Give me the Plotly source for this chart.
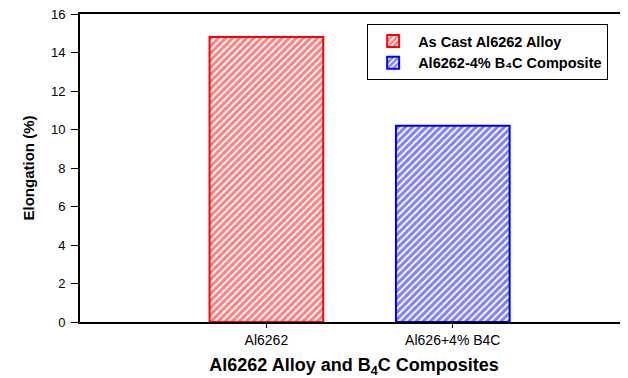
import plotly.graph_objects as go

categories = ["Al6262", "Al626+4% B4C"]
series_names = ["<b>As Cast Al6262 Alloy</b>", "<b>Al6262-4% B₄C Composite</b>"]
values = [14.8, 10.2]
colors = ["#ff0000", "#0000ff"]
y_ticks = [0, 2, 4, 6, 8, 10, 12, 14, 16]

FONT = "Arial, Liberation Sans, sans-serif"

fig = go.Figure()
for i, (name, val, col) in enumerate(zip(series_names, values, colors)):
    fig.add_trace(go.Bar(
        x=[i], y=[val], name=name, width=0.61,
        marker=dict(color="white", line=dict(color=col, width=2),
                    pattern=dict(shape="/", fgcolor=col, bgcolor="white", size=5, solidity=0.6)),
    ))

fig.update_layout(
    width=620, height=370,
    margin=dict(l=72, r=0, t=6, b=56),
    plot_bgcolor="white", paper_bgcolor="white",
    barmode="overlay",
    font=dict(family=FONT, color="black", size=12),
    legend=dict(x=0.524, y=0.9675, xanchor="left", yanchor="top",
                bordercolor="black", borderwidth=1, bgcolor="white",
                font=dict(family=FONT, size=14.5, color="black"),
                itemwidth=40, tracegroupgap=0),
    xaxis=dict(range=[-1.0, 1.94], tickvals=[0, 1], ticktext=categories,
               showline=True, linecolor="black", linewidth=2, mirror=True,
               ticks="outside", ticklen=4, tickcolor="black",
               showgrid=False, zeroline=False,
               tickfont=dict(size=14),
               title=dict(text="<b>Al6262 Alloy and B<sub>4</sub>C Composites</b>",
                          font=dict(size=18), standoff=13)),
    yaxis=dict(range=[0, 16], tickvals=y_ticks,
               showline=True, linecolor="black", linewidth=2,
               ticks="outside", ticklen=7, tickcolor="black",
               ticklabelstandoff=3, ticklabeloverflow="allow",
               showgrid=False, zeroline=False,
               tickfont=dict(size=13),
               title=dict(text="<b>Elongation (%)</b>", font=dict(size=15), standoff=13)),
)

fig.write_html("out.html")
